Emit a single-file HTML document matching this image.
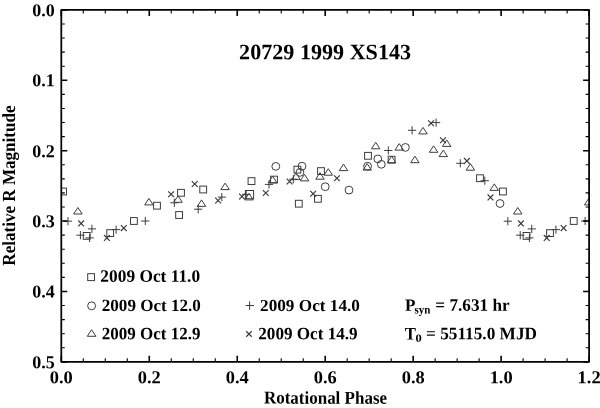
<!DOCTYPE html>
<html><head><meta charset="utf-8"><style>
html,body{margin:0;padding:0;background:#fff;width:600px;height:408px;overflow:hidden}
svg{display:block;will-change:transform}
text{font-family:"Liberation Serif",serif;font-weight:bold;fill:#000}
</style></head><body>
<svg width="600" height="408" viewBox="0 0 600 408">
<defs><clipPath id="c"><rect x="61.3" y="9.9" width="527.80" height="351.95"/></clipPath></defs>
<g fill="none" stroke="#3c3c3c" stroke-width="1" clip-path="url(#c)">
<rect x="59.70" y="188.10" width="6.80" height="6.80"/>
<rect x="499.53" y="188.10" width="6.80" height="6.80"/>
<rect x="83.30" y="232.50" width="6.80" height="6.80"/>
<rect x="523.13" y="232.50" width="6.80" height="6.80"/>
<rect x="106.80" y="229.70" width="6.80" height="6.80"/>
<rect x="546.63" y="229.70" width="6.80" height="6.80"/>
<rect x="130.50" y="217.60" width="6.80" height="6.80"/>
<rect x="570.33" y="217.60" width="6.80" height="6.80"/>
<rect x="153.60" y="202.30" width="6.80" height="6.80"/>
<rect x="177.60" y="189.40" width="6.80" height="6.80"/>
<rect x="175.70" y="211.60" width="6.80" height="6.80"/>
<rect x="199.80" y="186.10" width="6.80" height="6.80"/>
<rect x="248.10" y="177.70" width="6.80" height="6.80"/>
<rect x="270.60" y="176.20" width="6.80" height="6.80"/>
<rect x="245.40" y="190.50" width="8.20" height="8.20"/>
<rect x="294.00" y="166.20" width="6.80" height="6.80"/>
<rect x="295.40" y="200.30" width="6.80" height="6.80"/>
<rect x="317.60" y="167.70" width="6.80" height="6.80"/>
<rect x="314.50" y="195.40" width="6.80" height="6.80"/>
<rect x="364.60" y="152.40" width="6.80" height="6.80"/>
<rect x="388.20" y="156.30" width="6.80" height="6.80"/>
<rect x="476.60" y="174.80" width="6.80" height="6.80"/>
<circle cx="275.80" cy="166.40" r="3.9"/>
<circle cx="302.00" cy="166.20" r="3.9"/>
<circle cx="299.90" cy="172.40" r="3.9"/>
<circle cx="325.20" cy="186.70" r="3.9"/>
<circle cx="349.00" cy="190.10" r="3.9"/>
<circle cx="367.60" cy="166.20" r="3.9"/>
<circle cx="377.80" cy="158.90" r="3.9"/>
<circle cx="381.30" cy="164.30" r="3.9"/>
<circle cx="405.40" cy="147.40" r="3.9"/>
<circle cx="500.00" cy="203.50" r="3.9"/>
<path d="M77.90 207.50L82.15 214.00H73.65Z"/>
<path d="M517.73 207.50L521.98 214.00H513.48Z"/>
<path d="M148.90 198.40L153.15 204.90H144.65Z"/>
<path d="M588.73 198.40L592.98 204.90H584.48Z"/>
<path d="M178.00 195.80L182.25 202.30H173.75Z"/>
<path d="M201.50 199.90L205.75 206.40H197.25Z"/>
<path d="M225.10 183.10L229.35 189.60H220.85Z"/>
<path d="M272.60 176.20L276.85 182.70H268.35Z"/>
<path d="M249.00 193.40L253.25 199.90H244.75Z"/>
<path d="M296.00 173.10L300.25 179.60H291.75Z"/>
<path d="M304.50 174.40L308.75 180.90H300.25Z"/>
<path d="M320.00 172.70L324.25 179.20H315.75Z"/>
<path d="M328.30 168.70L332.55 175.20H324.05Z"/>
<path d="M343.50 164.10L347.75 170.60H339.25Z"/>
<path d="M367.20 163.60L371.45 170.10H362.95Z"/>
<path d="M375.70 142.30L379.95 148.80H371.45Z"/>
<path d="M399.20 143.60L403.45 150.10H394.95Z"/>
<path d="M391.60 156.20L395.85 162.70H387.35Z"/>
<path d="M414.90 156.20L419.15 162.70H410.65Z"/>
<path d="M423.00 127.40L427.25 133.90H418.75Z"/>
<path d="M446.70 139.90L450.95 146.40H442.45Z"/>
<path d="M433.60 145.80L437.85 152.30H429.35Z"/>
<path d="M443.30 150.10L447.55 156.60H439.05Z"/>
<path d="M470.40 163.70L474.65 170.20H466.15Z"/>
<path d="M494.30 183.90L498.55 190.40H490.05Z"/>
<path d="M63.90 221.20H72.10M68.00 217.10V225.30"/>
<path d="M503.73 221.20H511.93M507.83 217.10V225.30"/>
<path d="M87.80 228.90H96.00M91.90 224.80V233.00"/>
<path d="M527.63 228.90H535.83M531.73 224.80V233.00"/>
<path d="M76.30 235.20H84.50M80.40 231.10V239.30"/>
<path d="M516.13 235.20H524.33M520.23 231.10V239.30"/>
<path d="M85.50 237.90H93.70M89.60 233.80V242.00"/>
<path d="M525.33 237.90H533.53M529.43 233.80V242.00"/>
<path d="M112.00 229.60H120.20M116.10 225.50V233.70"/>
<path d="M551.83 229.60H560.03M555.93 225.50V233.70"/>
<path d="M141.20 221.00H149.40M145.30 216.90V225.10"/>
<path d="M581.03 221.00H589.23M585.13 216.90V225.10"/>
<path d="M170.20 202.80H178.40M174.30 198.70V206.90"/>
<path d="M194.10 209.20H202.30M198.20 205.10V213.30"/>
<path d="M217.70 197.10H225.90M221.80 193.00V201.20"/>
<path d="M242.10 194.40H250.30M246.20 190.30V198.50"/>
<path d="M264.90 184.40H273.10M269.00 180.30V188.50"/>
<path d="M289.20 179.20H297.40M293.30 175.10V183.30"/>
<path d="M384.20 150.50H392.40M388.30 146.40V154.60"/>
<path d="M408.00 130.30H416.20M412.10 126.20V134.40"/>
<path d="M432.00 122.60H440.20M436.10 118.50V126.70"/>
<path d="M456.20 163.30H464.40M460.30 159.20V167.40"/>
<path d="M480.70 180.70H488.90M484.80 176.60V184.80"/>
<path d="M78.20 220.50L84.00 226.30M78.20 226.30L84.00 220.50" stroke-width="1.2"/>
<path d="M518.03 220.50L523.83 226.30M518.03 226.30L523.83 220.50" stroke-width="1.2"/>
<path d="M104.00 235.00L109.80 240.80M104.00 240.80L109.80 235.00" stroke-width="1.2"/>
<path d="M543.83 235.00L549.63 240.80M543.83 240.80L549.63 235.00" stroke-width="1.2"/>
<path d="M120.90 225.20L126.70 231.00M120.90 231.00L126.70 225.20" stroke-width="1.2"/>
<path d="M560.73 225.20L566.53 231.00M560.73 231.00L566.53 225.20" stroke-width="1.2"/>
<path d="M168.20 191.30L174.00 197.10M168.20 197.10L174.00 191.30" stroke-width="1.2"/>
<path d="M191.80 181.10L197.60 186.90M191.80 186.90L197.60 181.10" stroke-width="1.2"/>
<path d="M215.20 197.60L221.00 203.40M215.20 203.40L221.00 197.60" stroke-width="1.2"/>
<path d="M239.10 193.60L244.90 199.40M239.10 199.40L244.90 193.60" stroke-width="1.2"/>
<path d="M262.90 190.10L268.70 195.90M262.90 195.90L268.70 190.10" stroke-width="1.2"/>
<path d="M286.70 178.60L292.50 184.40M286.70 184.40L292.50 178.60" stroke-width="1.2"/>
<path d="M310.20 190.80L316.00 196.60M310.20 196.60L316.00 190.80" stroke-width="1.2"/>
<path d="M334.00 175.40L339.80 181.20M334.00 181.20L339.80 175.40" stroke-width="1.2"/>
<path d="M428.10 120.35L433.90 126.15M428.10 126.15L433.90 120.35" stroke-width="1.2"/>
<path d="M440.10 137.30L445.90 143.10M440.10 143.10L445.90 137.30" stroke-width="1.2"/>
<path d="M464.00 158.00L469.80 163.80M464.00 163.80L469.80 158.00" stroke-width="1.2"/>
<path d="M487.60 194.50L493.40 200.30M487.60 200.30L493.40 194.50" stroke-width="1.2"/>
</g>
<g stroke="#000" fill="none">
<path d="M61.30 9.9v6M61.30 361.85v-6" stroke-width="1.6"/>
<path d="M83.29 9.9v3.5M83.29 361.85v-3.5" stroke-width="1.1"/>
<path d="M105.28 9.9v3.5M105.28 361.85v-3.5" stroke-width="1.1"/>
<path d="M127.28 9.9v3.5M127.28 361.85v-3.5" stroke-width="1.1"/>
<path d="M149.27 9.9v6M149.27 361.85v-6" stroke-width="1.6"/>
<path d="M171.26 9.9v3.5M171.26 361.85v-3.5" stroke-width="1.1"/>
<path d="M193.25 9.9v3.5M193.25 361.85v-3.5" stroke-width="1.1"/>
<path d="M215.24 9.9v3.5M215.24 361.85v-3.5" stroke-width="1.1"/>
<path d="M237.23 9.9v6M237.23 361.85v-6" stroke-width="1.6"/>
<path d="M259.23 9.9v3.5M259.23 361.85v-3.5" stroke-width="1.1"/>
<path d="M281.22 9.9v3.5M281.22 361.85v-3.5" stroke-width="1.1"/>
<path d="M303.21 9.9v3.5M303.21 361.85v-3.5" stroke-width="1.1"/>
<path d="M325.20 9.9v6M325.20 361.85v-6" stroke-width="1.6"/>
<path d="M347.19 9.9v3.5M347.19 361.85v-3.5" stroke-width="1.1"/>
<path d="M369.18 9.9v3.5M369.18 361.85v-3.5" stroke-width="1.1"/>
<path d="M391.18 9.9v3.5M391.18 361.85v-3.5" stroke-width="1.1"/>
<path d="M413.17 9.9v6M413.17 361.85v-6" stroke-width="1.6"/>
<path d="M435.16 9.9v3.5M435.16 361.85v-3.5" stroke-width="1.1"/>
<path d="M457.15 9.9v3.5M457.15 361.85v-3.5" stroke-width="1.1"/>
<path d="M479.14 9.9v3.5M479.14 361.85v-3.5" stroke-width="1.1"/>
<path d="M501.13 9.9v6M501.13 361.85v-6" stroke-width="1.6"/>
<path d="M523.12 9.9v3.5M523.12 361.85v-3.5" stroke-width="1.1"/>
<path d="M545.12 9.9v3.5M545.12 361.85v-3.5" stroke-width="1.1"/>
<path d="M567.11 9.9v3.5M567.11 361.85v-3.5" stroke-width="1.1"/>
<path d="M589.10 9.9v6M589.10 361.85v-6" stroke-width="1.6"/>
<path d="M61.3 9.90h6M589.1 9.90h-6" stroke-width="1.6"/>
<path d="M61.3 23.98h3.5M589.1 23.98h-3.5" stroke-width="1.1"/>
<path d="M61.3 38.06h3.5M589.1 38.06h-3.5" stroke-width="1.1"/>
<path d="M61.3 52.13h3.5M589.1 52.13h-3.5" stroke-width="1.1"/>
<path d="M61.3 66.21h3.5M589.1 66.21h-3.5" stroke-width="1.1"/>
<path d="M61.3 80.29h6M589.1 80.29h-6" stroke-width="1.6"/>
<path d="M61.3 94.37h3.5M589.1 94.37h-3.5" stroke-width="1.1"/>
<path d="M61.3 108.45h3.5M589.1 108.45h-3.5" stroke-width="1.1"/>
<path d="M61.3 122.52h3.5M589.1 122.52h-3.5" stroke-width="1.1"/>
<path d="M61.3 136.60h3.5M589.1 136.60h-3.5" stroke-width="1.1"/>
<path d="M61.3 150.68h6M589.1 150.68h-6" stroke-width="1.6"/>
<path d="M61.3 164.76h3.5M589.1 164.76h-3.5" stroke-width="1.1"/>
<path d="M61.3 178.84h3.5M589.1 178.84h-3.5" stroke-width="1.1"/>
<path d="M61.3 192.91h3.5M589.1 192.91h-3.5" stroke-width="1.1"/>
<path d="M61.3 206.99h3.5M589.1 206.99h-3.5" stroke-width="1.1"/>
<path d="M61.3 221.07h6M589.1 221.07h-6" stroke-width="1.6"/>
<path d="M61.3 235.15h3.5M589.1 235.15h-3.5" stroke-width="1.1"/>
<path d="M61.3 249.23h3.5M589.1 249.23h-3.5" stroke-width="1.1"/>
<path d="M61.3 263.30h3.5M589.1 263.30h-3.5" stroke-width="1.1"/>
<path d="M61.3 277.38h3.5M589.1 277.38h-3.5" stroke-width="1.1"/>
<path d="M61.3 291.46h6M589.1 291.46h-6" stroke-width="1.6"/>
<path d="M61.3 305.54h3.5M589.1 305.54h-3.5" stroke-width="1.1"/>
<path d="M61.3 319.62h3.5M589.1 319.62h-3.5" stroke-width="1.1"/>
<path d="M61.3 333.69h3.5M589.1 333.69h-3.5" stroke-width="1.1"/>
<path d="M61.3 347.77h3.5M589.1 347.77h-3.5" stroke-width="1.1"/>
<path d="M61.3 361.85h6M589.1 361.85h-6" stroke-width="1.6"/>
</g>
<rect x="61.3" y="9.9" width="527.80" height="351.95" fill="none" stroke="#000" stroke-width="1.75" stroke-linejoin="round"/>
<text transform="matrix(1.0024 0.00101 0 1.0122 54.75 16.35)" font-size="18" text-anchor="end">0.0</text>
<text transform="matrix(1.0024 0.00101 0 1.0122 54.75 86.15)" font-size="18" text-anchor="end">0.1</text>
<text transform="matrix(1.0024 0.00101 0 1.0122 54.75 157.25)" font-size="18" text-anchor="end">0.2</text>
<text transform="matrix(1.0024 0.00101 0 1.0122 54.75 227.25)" font-size="18" text-anchor="end">0.3</text>
<text transform="matrix(1.0024 0.00101 0 1.0122 54.75 297.45)" font-size="18" text-anchor="end">0.4</text>
<text transform="matrix(1.0024 0.00101 0 1.0122 54.75 368.15)" font-size="18" text-anchor="end">0.5</text>
<text transform="matrix(1.0238 0.00101 0 1.0122 61.30 383.15)" font-size="18" text-anchor="middle">0.0</text>
<text transform="matrix(1.0238 0.00101 0 1.0122 149.27 383.15)" font-size="18" text-anchor="middle">0.2</text>
<text transform="matrix(1.0238 0.00101 0 1.0122 237.23 383.15)" font-size="18" text-anchor="middle">0.4</text>
<text transform="matrix(1.0238 0.00101 0 1.0122 325.20 383.15)" font-size="18" text-anchor="middle">0.6</text>
<text transform="matrix(1.0238 0.00101 0 1.0122 413.17 383.15)" font-size="18" text-anchor="middle">0.8</text>
<text transform="matrix(1.0238 0.00101 0 1.0122 501.13 383.15)" font-size="18" text-anchor="middle">1.0</text>
<text transform="matrix(1.0238 0.00101 0 1.0122 589.10 383.15)" font-size="18" text-anchor="middle">1.2</text>
<text transform="matrix(0.9830 0.00098 0 0.9806 239.12 59.21)" font-size="22.5" text-anchor="start">20729 1999 XS143</text>
<text transform="matrix(0.9820 0.00105 0 1.0489 263.95 403.60)" font-size="17.3" text-anchor="start">Rotational Phase</text>
<text transform="matrix(1.0667 0.00099 0 0.9873 14.60 265.65) rotate(-90)" font-size="17.3" text-anchor="start">Relative R Magnitude</text>
<text transform="matrix(0.9924 0.00100 0 0.9957 100.36 281.65)" font-size="17.5" text-anchor="start">2009 Oct 11.0</text>
<text transform="matrix(0.9766 0.00098 0 0.9787 101.77 310.96)" font-size="17.5" text-anchor="start">2009 Oct 12.0</text>
<text transform="matrix(0.9726 0.00099 0 0.9872 101.77 339.15)" font-size="17.5" text-anchor="start">2009 Oct 12.9</text>
<text transform="matrix(0.9835 0.00096 0 0.9617 260.06 310.96)" font-size="17.5" text-anchor="start">2009 Oct 14.0</text>
<text transform="matrix(0.9796 0.00099 0 0.9872 258.27 339.15)" font-size="17.5" text-anchor="start">2009 Oct 14.9</text>
<text transform="matrix(0.9800 0.00098 0 0.9826 404.95 310.80)" font-size="17.5" text-anchor="start">P</text>
<text transform="matrix(0.9134 0.00099 0 0.9875 414.54 313.53)" font-size="12" text-anchor="start">syn</text>
<text transform="matrix(0.9839 0.00100 0 1.0000 435.36 310.80)" font-size="17.5" text-anchor="start">= 7.631 hr</text>
<text transform="matrix(0.9600 0.00101 0 1.0087 404.76 339.60)" font-size="17.5" text-anchor="start">T</text>
<text transform="matrix(1.1333 0.00101 0 1.0069 415.53 341.80)" font-size="11" text-anchor="start">0</text>
<text transform="matrix(0.9865 0.00100 0 0.9957 426.06 339.25)" font-size="17.5" text-anchor="start">= 55115.0 MJD</text>
<g fill="none" stroke="#3c3c3c" stroke-width="1">
<rect x="87.7" y="273.7" width="6.8" height="6.9"/>
<circle cx="91.6" cy="305.8" r="3.95"/>
<path d="M91.6 329.7L95.9 336.3H87.3Z"/>
<path d="M245.7 305.5H253.9M249.6 301.4V309.8"/>
<path d="M246.2 331.3L251.7 336.8M246.2 336.8L251.7 331.3" stroke-width="1.25"/>
</g>
</svg>
</body></html>
